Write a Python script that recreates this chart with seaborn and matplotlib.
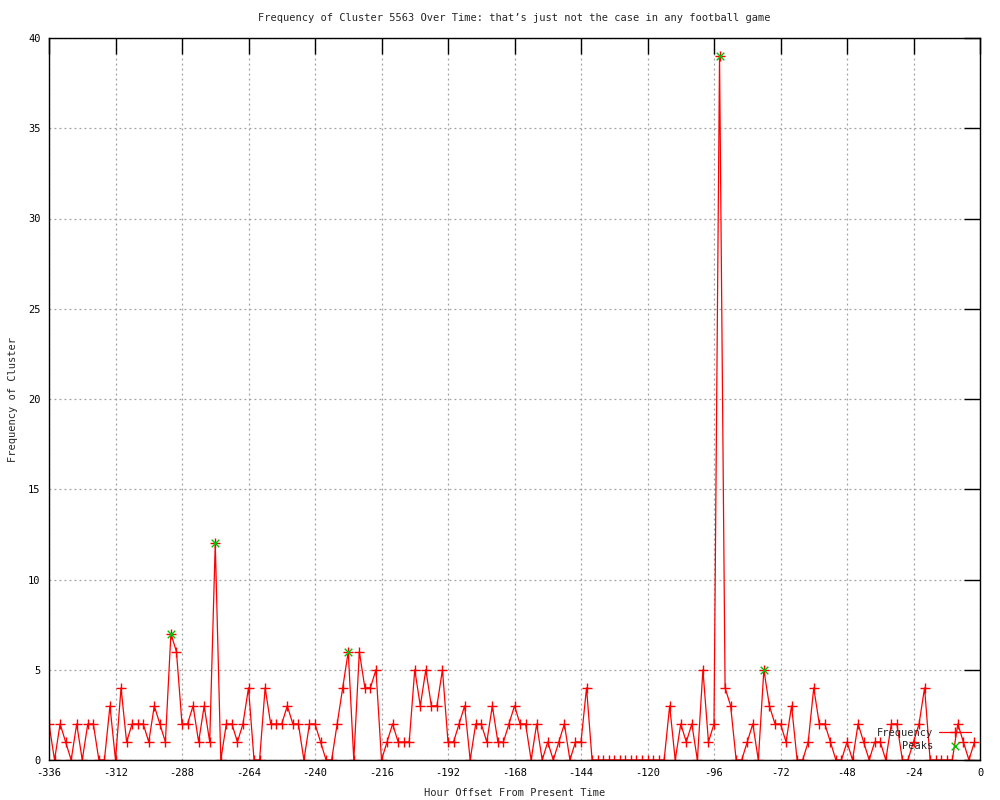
"""
Cluster frequency over time, gnuplot-style look.
"""

import numpy as np
import pandas as pd
import matplotlib
matplotlib.use("Agg")
import matplotlib.pyplot as plt
import seaborn as sns

# Data
hours = list(range(-336, 0, 2))
frequency = [
    2, 0, 2, 1, 0, 2, 0, 2, 2, 0, 0, 3,
    0, 4, 1, 2, 2, 2, 1, 3, 2, 1, 7, 6,
    2, 2, 3, 1, 3, 1, 12, 0, 2, 2, 1, 2,
    4, 0, 0, 4, 2, 2, 2, 3, 2, 2, 0, 2,
    2, 1, 0, 0, 2, 4, 6, 0, 6, 4, 4, 5,
    0, 1, 2, 1, 1, 1, 5, 3, 5, 3, 3, 5,
    1, 1, 2, 3, 0, 2, 2, 1, 3, 1, 1, 2,
    3, 2, 2, 0, 2, 0, 1, 0, 1, 2, 0, 1,
    1, 4, 0, 0, 0, 0, 0, 0, 0, 0, 0, 0,
    0, 0, 0, 0, 3, 0, 2, 1, 2, 0, 5, 1,
    2, 39, 4, 3, 0, 0, 1, 2, 0, 5, 3, 2,
    2, 1, 3, 0, 0, 1, 4, 2, 2, 1, 0, 0,
    1, 0, 2, 1, 0, 1, 1, 0, 2, 2, 0, 0,
    1, 2, 4, 0, 0, 0, 0, 0, 2, 1, 0, 1,
]
peak_hours = [-292, -276, -228, -94, -78]
peak_values = [7, 12, 6, 39, 5]

x_ticks = list(range(-336, 1, 24))
y_ticks = list(range(0, 41, 5))

title = "Frequency of Cluster 5563 Over Time: that\u2019s just not the case in any football game"

sns.set_style("white")
plt.rcParams['font.family'] = ['DejaVu Sans Mono']
plt.rcParams['axes.unicode_minus'] = False
plt.rcParams['font.size'] = 7.5

df = pd.DataFrame({'hour': hours, 'freq': frequency})
peaks = pd.DataFrame({'hour': peak_hours, 'freq': peak_values})

fig = plt.figure(figsize=(10, 8), dpi=100)
ax = fig.add_axes([0.049, 0.05, 0.931, 0.9025])

sns.lineplot(data=df, x='hour', y='freq', ax=ax, color='red', linewidth=0.9,
             marker='+', markersize=7, markeredgewidth=1.0, markeredgecolor='red',
             label='Frequency')
sns.scatterplot(data=peaks, x='hour', y='freq', ax=ax, marker='x', s=30,
                color='#00c000', linewidth=1.0, label='Peaks', zorder=3)

ax.set_xlim(-336, 0)
ax.set_ylim(0, 40)
ax.set_xticks(x_ticks)
ax.set_yticks(y_ticks)
ax.grid(True, color='#a0a0a0', linestyle=(0, (1.5, 2.5)), linewidth=0.9)
ax.set_axisbelow(True)
ax.tick_params(direction='in', length=11.5, width=1, top=True, right=True,
               labelsize=7.5, pad=6, colors='black')
for sp in ax.spines.values():
    sp.set_color('black')
    sp.set_linewidth(1)

ax.set_title(title, fontsize=7.5, pad=12)
ax.set_xlabel("Hour Offset From Present Time", fontsize=7.5, labelpad=7)
ax.set_ylabel("Frequency of Cluster", fontsize=7.5)
ax.yaxis.set_label_coords(-0.033, 0.5)

leg = ax.legend(loc='lower right', frameon=False, markerfirst=False,
                fontsize=7.5, handlelength=3.0, handletextpad=0.6,
                labelspacing=0.3, borderaxespad=0.5)

fig.savefig("out.png", dpi=100)
plt.close(fig)
